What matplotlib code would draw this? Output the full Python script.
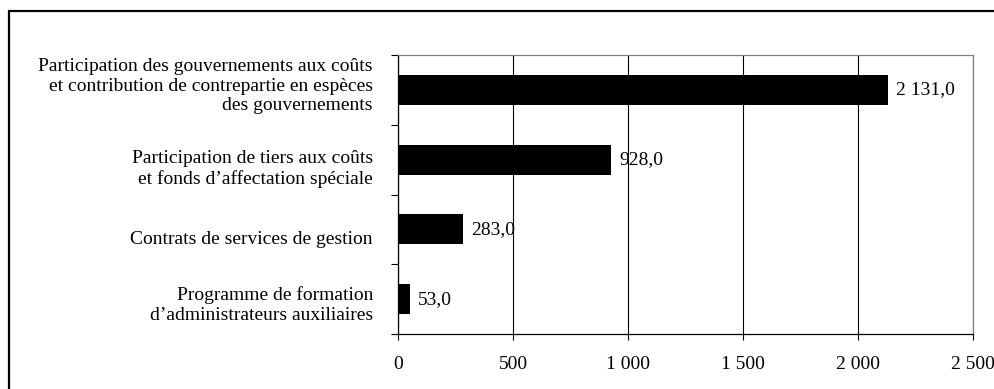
import matplotlib.pyplot as plt
from matplotlib.patches import Rectangle
from matplotlib.transforms import ScaledTranslation
import numpy as np

categories = [
    "Participation des gouvernements aux coûts\net contribution de contrepartie en espèces\ndes gouvernements",
    "Participation de tiers aux coûts\net fonds d\u2019affectation spéciale",
    "Contrats de services de gestion",
    "Programme de formation\nd\u2019administrateurs auxiliaires",
]
values = [2131.0, 928.0, 283.0, 53.0]
xticks = [0, 500, 1000, 1500, 2000, 2500]
xticklabels = ["0", "500", "1 000", "1 500", "2 000", "2 500"]

plt.rcParams["font.family"] = ["Liberation Serif", "DejaVu Serif"]
plt.rcParams["font.size"] = 14

fig = plt.figure(figsize=(9.95, 3.89), dpi=100)
ax = fig.add_axes([398 / 995, 1 - 334 / 389, 575 / 995, 279 / 389])

# bars from top to bottom
ypos = np.arange(len(categories))[::-1] + 0.5
ax.barh(ypos, values, height=0.43, color="black", zorder=3)

for y, v in zip(ypos, values):
    label = f"{v:,.1f}".replace(",", " ").replace(".", ",")
    ax.text(v + 34, y, label, va="center", ha="left", zorder=4)

ax.set_xlim(0, 2500)
ax.set_ylim(0, 4)
ax.set_xticks(xticks)
ax.set_xticklabels(xticklabels)
ax.set_yticks([0, 1, 2, 3, 4])
ax.set_yticklabels([])
ax.set_yticks(ypos, minor=True)
ax.set_yticklabels(categories, minor=True, ha="right", multialignment="right",
                   linespacing=1.17)
ax.tick_params(axis="y", which="minor", length=0, pad=18)
ax.tick_params(axis="y", which="major", length=5, width=0.8, direction="out")
ax.tick_params(axis="x", length=4, width=0.8, direction="out", pad=12)

# category labels sit slightly off the bar centres
shifts = [5, -4.5, -6, -2]
for lab, dy in zip(ax.get_yticklabels(minor=True), shifts):
    lab.set_transform(lab.get_transform() + ScaledTranslation(0, dy / 72, fig.dpi_scale_trans))

ax.grid(axis="x", color="black", linewidth=0.8, zorder=1)
ax.spines["left"].set_color("black")
ax.spines["bottom"].set_color("black")
for s in ("top", "right"):
    ax.spines[s].set_color("#808080")
for s in ax.spines.values():
    s.set_linewidth(0.9)

# outer chart frame
fig.patches.append(Rectangle((9 / 995, -0.1), 1.2, 1.1 - 11 / 389,
                             transform=fig.transFigure, fill=False,
                             edgecolor="black", linewidth=1.6))

fig.savefig("out.png", dpi=100)
